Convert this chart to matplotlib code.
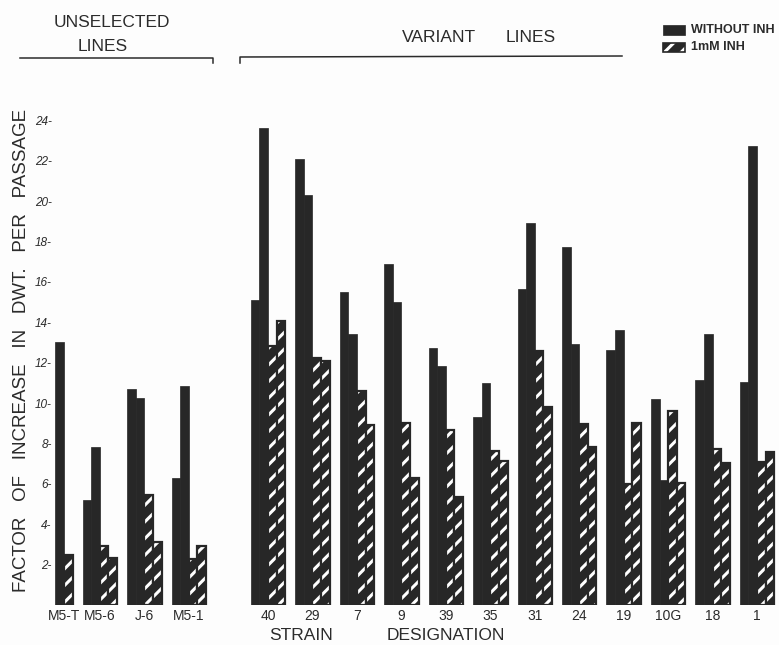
import matplotlib
matplotlib.use("Agg")
import matplotlib.pyplot as plt
from matplotlib.patches import Rectangle
from matplotlib.lines import Line2D
import numpy as np

# Strain designations
unselected_strains = ["M5-T", "M5-6", "J-6", "M5-1"]
variant_strains = ["40", "29", "7", "9", "39", "35", "31", "24", "19", "10G", "18", "1"]

# Factor of increase in dry weight per passage, without INH (replicates)
unselected_without = [[13.0], [5.2, 7.8], [10.7, 10.25], [6.3, 10.85]]
variant_without = [[15.1, 23.6], [22.1, 20.3], [15.5, 13.4], [16.9, 15.0],
                   [12.7, 11.85], [9.3, 11.0], [15.65, 18.9], [17.7, 12.9],
                   [12.6, 13.6], [10.2, 6.2], [11.15, 13.4], [11.05, 22.7]]

# Same, with 1 mM INH
unselected_inh = [[2.5], [2.9, 2.35], [5.45, 3.1], [2.3, 2.9]]
variant_inh = [[12.8, 14.05], [12.25, 12.1], [10.6, 8.9], [9.0, 6.3],
               [8.65, 5.35], [7.6, 7.15], [12.55, 9.8], [8.95, 7.8],
               [6.0, 9.0], [9.6, 6.05], [7.7, 7.05], [7.1, 7.55]]

y_ticks = list(range(2, 25, 2))

W, H = 779, 645
BAR = "#272727"
INK = "#2b2b2b"

plt.rcParams["hatch.linewidth"] = 2.2
plt.rcParams["font.family"] = ["Liberation Sans", "DejaVu Sans"]

fig = plt.figure(figsize=(W / 100, H / 100), dpi=100, facecolor="#fdfdfd")


def fx(px):
    return px / W


def fy(py):
    return 1 - py / H


ax = fig.add_axes([fx(53), fy(605), (776 - 53) / W, 505 / H])
ax.set_facecolor("none")
ax.set_xlim(0, (776 - 53) / 8.6)
ax.set_ylim(0, 25)
for s in ax.spines.values():
    s.set_visible(False)

pitch = 5.17


def draw_group(start, solids, hatched):
    n = len(solids) + len(hatched)
    x0 = start + (4 - n)
    xs = x0 + np.arange(n)
    for i, v in enumerate(solids):
        ax.bar(xs[i], v, width=1, align="edge", facecolor=BAR,
               edgecolor=BAR, linewidth=0.5)
    for j, v in enumerate(hatched):
        x = xs[len(solids) + j]
        ax.bar(x, v, width=1, align="edge", facecolor=BAR,
               edgecolor="white", hatch="//", linewidth=0)
        ax.bar(x, v, width=1, align="edge", facecolor="none",
               edgecolor=BAR, linewidth=1.6)
    return x0 + n / 2


centers = []
for k, (a, b) in enumerate(zip(unselected_without, unselected_inh)):
    centers.append(draw_group(-1.72 + k * pitch, a, b))
for k, (a, b) in enumerate(zip(variant_without, variant_inh)):
    centers.append(draw_group(23.0 + k * pitch, a, b))

ax.set_xticks(centers, unselected_strains + variant_strains)
ax.tick_params(axis="x", length=0, pad=3, labelsize=10, labelcolor=INK)
ax.set_yticks(y_ticks, [f"{v}-" for v in y_ticks])
ax.tick_params(axis="y", length=0, pad=1, labelsize=8.5, labelcolor=INK)
for lab in ax.get_yticklabels():
    lab.set_fontstyle("italic")

# Axis titles
fig.text(fx(22), fy(350), "FACTOR   OF   INCREASE   IN   DWT.   PER   PASSAGE",
         rotation=90, ha="center", va="center", fontsize=13.5, color=INK)
fig.text(fx(301), fy(636), "STRAIN", ha="center", va="center",
         fontsize=12.5, color=INK)
fig.text(fx(446), fy(636), "DESIGNATION", ha="center", va="center",
         fontsize=12.5, color=INK)

# Group headings with brackets
fig.text(fx(112), fy(22.5), "UNSELECTED", ha="center", va="center",
         fontsize=12.5, color=INK)
fig.text(fx(103), fy(46.5), "LINES", ha="center", va="center",
         fontsize=12.5, color=INK)
fig.text(fx(439), fy(37.5), "VARIANT", ha="center", va="center",
         fontsize=12.5, color=INK)
fig.text(fx(531), fy(37.5), "LINES", ha="center", va="center",
         fontsize=12.5, color=INK)

fig.add_artist(Line2D([fx(20), fx(213), fx(213)], [fy(58), fy(58), fy(63)],
                      transform=fig.transFigure, color=INK, lw=1.1))
fig.add_artist(Line2D([fx(240), fx(240), fx(622)], [fy(63), fy(57), fy(56)],
                      transform=fig.transFigure, color=INK, lw=1.1))

# Legend
fig.add_artist(Rectangle((fx(663), fy(35)), (685 - 663) / W, 10 / H,
                         transform=fig.transFigure, facecolor=BAR,
                         edgecolor=BAR, lw=0.5))
fig.add_artist(Rectangle((fx(663), fy(52)), (685 - 663) / W, 9 / H,
                         transform=fig.transFigure, facecolor=BAR,
                         edgecolor="white", hatch="//", lw=0))
fig.add_artist(Rectangle((fx(663), fy(52)), (685 - 663) / W, 9 / H,
                         transform=fig.transFigure, facecolor="none",
                         edgecolor=BAR, lw=1.2))
fig.text(fx(691), fy(30), "WITHOUT INH", ha="left", va="center",
         fontsize=9, fontweight="bold", color=INK)
fig.text(fx(691), fy(47.5), "1mM INH", ha="left", va="center",
         fontsize=9, fontweight="bold", color=INK)

fig.savefig("out.png", dpi=100, facecolor=fig.get_facecolor())
